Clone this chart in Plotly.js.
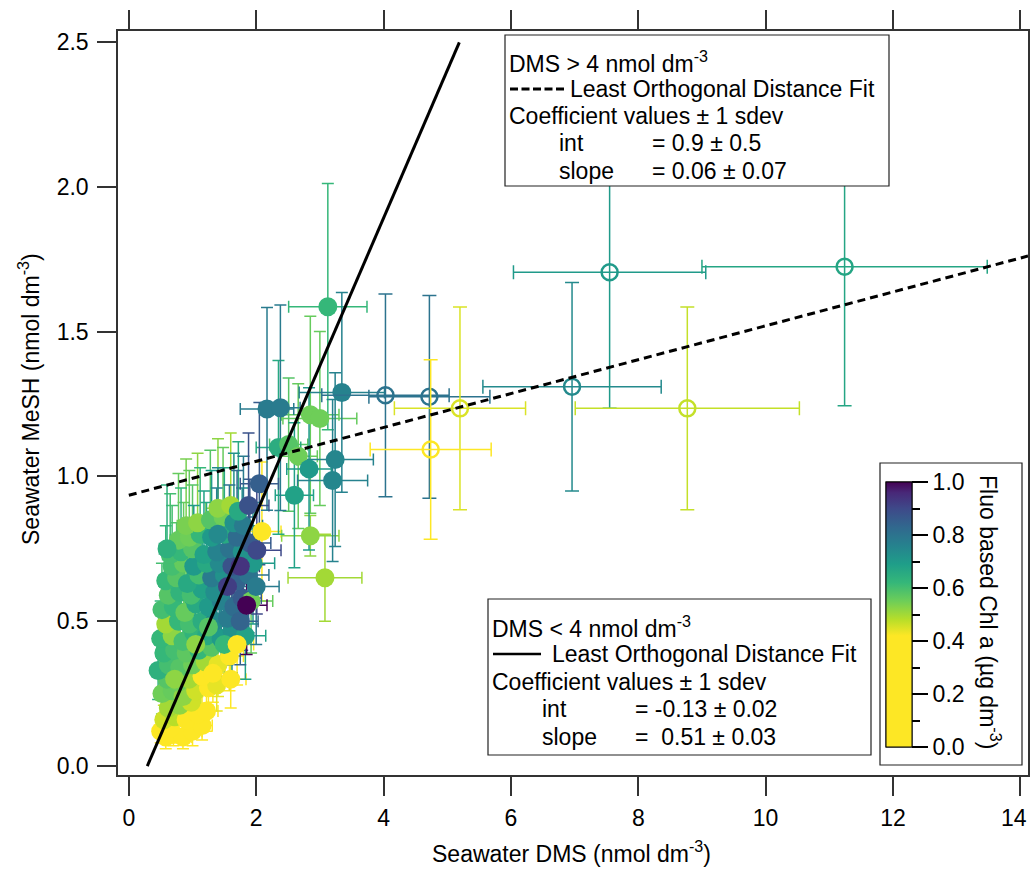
<!DOCTYPE html>
<html><head><meta charset="utf-8">
<script src="https://cdn.plot.ly/plotly-3.0.1.min.js"></script>
<style>html,body{margin:0;padding:0;background:#fff}</style>
</head><body>
<div id="chart" style="width:1030px;height:869px"></div>
<script>
// ---------- DATA: DMS < 4 nmol dm-3 (filled circles) ----------
const lowX = [
 0.58,0.70,0.85,1.00,0.65,1.15,0.50,
 0.55,0.72,0.90,1.08,1.22,0.62,0.80,0.98,
 0.52,0.68,0.85,1.05,1.25,1.38,0.60,0.78,0.95,1.15,
 0.46,0.62,0.80,1.00,1.20,1.40,1.58,0.55,0.72,0.90,1.10,1.30,
 0.50,0.68,0.85,1.02,1.22,1.45,1.62,1.83,0.58,0.78,0.95,1.15,1.35,1.55,
 0.52,0.70,0.88,1.05,1.25,1.45,1.65,1.78,1.92,0.62,0.80,0.98,1.15,1.35,
 0.58,0.75,0.92,1.10,1.30,1.50,1.70,1.88,2.00,0.68,0.86,1.02,1.22,1.42,1.62,1.95,
 0.65,0.82,1.00,1.18,1.38,1.58,1.78,1.90,2.01,0.78,0.95,1.12,1.30,1.50,1.70,
 0.90,1.08,1.28,1.48,1.65,1.80,1.40,1.60,1.72,1.88,
 0.72,1.32,1.50,1.75,1.55,1.25,1.05,0.60,1.60,1.75,1.40,
 1.70,1.85,2.09,
 2.05,2.35,2.51,2.66,2.83,3.24,3.20,2.60,2.17,2.38,2.85,3.00,3.345,3.125,2.85,3.08
];
const lowY = [
 0.10,0.11,0.10,0.12,0.13,0.14,0.12,
 0.16,0.17,0.16,0.18,0.19,0.20,0.21,0.22,
 0.25,0.26,0.24,0.26,0.27,0.28,0.30,0.29,0.30,0.31,
 0.33,0.35,0.34,0.35,0.36,0.35,0.38,0.39,0.40,0.39,0.40,0.41,
 0.44,0.45,0.43,0.46,0.45,0.44,0.47,0.45,0.49,0.50,0.49,0.50,0.50,0.51,
 0.54,0.55,0.53,0.56,0.55,0.57,0.55,0.58,0.57,0.59,0.60,0.59,0.61,0.60,
 0.64,0.65,0.63,0.66,0.65,0.66,0.64,0.66,0.62,0.69,0.70,0.69,0.70,0.70,0.69,0.70,
 0.73,0.74,0.75,0.73,0.74,0.75,0.74,0.77,0.745,0.78,0.79,0.80,0.79,0.80,0.79,
 0.83,0.84,0.85,0.86,0.84,0.83,0.89,0.90,0.88,0.90,
 0.30,0.32,0.42,0.50,0.62,0.48,0.42,0.75,0.30,0.69,0.80,
 0.42,0.555,0.81,
 0.975,1.10,1.11,1.07,1.026,1.058,0.986,0.935,1.233,1.237,1.213,1.20,1.29,1.586,0.795,0.65
];
const lowXerr = [
 0.10,0.12,0.14,0.15,0.10,0.16,0.09,
 0.10,0.12,0.14,0.15,0.18,0.11,0.12,0.15,
 0.10,0.12,0.14,0.16,0.18,0.20,0.11,0.13,0.15,0.17,
 0.10,0.12,0.14,0.16,0.18,0.20,0.22,0.11,0.13,0.15,0.17,0.19,
 0.10,0.12,0.14,0.16,0.18,0.20,0.26,0.32,0.11,0.13,0.15,0.17,0.19,0.24,
 0.10,0.12,0.14,0.16,0.18,0.22,0.28,0.30,0.34,0.11,0.13,0.15,0.17,0.19,
 0.11,0.12,0.14,0.16,0.18,0.22,0.28,0.32,0.36,0.12,0.13,0.15,0.17,0.19,0.26,0.34,
 0.12,0.13,0.15,0.17,0.19,0.24,0.30,0.33,0.38,0.13,0.15,0.16,0.18,0.20,0.28,
 0.14,0.16,0.18,0.20,0.24,0.30,0.19,0.21,0.26,0.32,
 0.12,0.19,0.21,0.28,0.24,0.18,0.16,0.12,0.24,0.30,0.19,
 0.26,0.32,0.30,
 0.30,0.35,0.30,0.30,0.35,0.60,0.55,0.30,0.42,0.31,0.45,0.58,0.67,0.615,0.45,0.58
];
const lowYerr = [
 0.04,0.04,0.04,0.05,0.05,0.05,0.04,
 0.05,0.06,0.06,0.06,0.07,0.06,0.07,0.07,
 0.07,0.08,0.08,0.08,0.09,0.09,0.09,0.09,0.09,0.10,
 0.10,0.10,0.10,0.11,0.11,0.11,0.12,0.12,0.12,0.12,0.12,0.13,
 0.13,0.13,0.13,0.14,0.14,0.14,0.15,0.15,0.15,0.15,0.15,0.15,0.16,0.16,
 0.16,0.16,0.16,0.17,0.17,0.17,0.17,0.18,0.18,0.18,0.18,0.18,0.18,0.18,
 0.19,0.19,0.19,0.20,0.20,0.20,0.20,0.20,0.20,0.21,0.21,0.21,0.21,0.21,0.21,0.21,
 0.21,0.22,0.22,0.22,0.22,0.22,0.22,0.22,0.22,0.23,0.23,0.23,0.23,0.23,0.23,
 0.23,0.24,0.24,0.24,0.24,0.24,0.24,0.25,0.24,0.25,
 0.09,0.10,0.13,0.15,0.19,0.15,0.13,0.22,0.10,0.21,0.23,
 0.14,0.17,0.24,
 0.28,0.30,0.23,0.25,0.28,0.30,0.28,0.25,0.35,0.355,0.34,0.30,0.345,0.425,0.07,0.15
];
const lowChl = [
 0.35,0.33,0.38,0.36,0.40,0.32,0.41,
 0.46,0.48,0.42,0.40,0.38,0.50,0.52,0.46,
 0.55,0.56,0.52,0.46,0.40,0.44,0.58,0.55,0.50,0.42,
 0.64,0.60,0.58,0.55,0.50,0.44,0.40,0.62,0.60,0.57,0.62,0.58,
 0.62,0.52,0.60,0.63,0.66,0.70,0.72,0.68,0.50,0.62,0.60,0.65,0.74,0.78,
 0.60,0.62,0.56,0.66,0.70,0.76,0.82,0.86,0.55,0.58,0.63,0.60,0.68,0.73,
 0.62,0.58,0.66,0.60,0.78,0.72,0.84,0.80,0.78,0.60,0.56,0.70,0.66,0.74,0.88,0.70,
 0.60,0.62,0.58,0.68,0.76,0.80,0.72,0.86,0.90,0.56,0.55,0.62,0.70,0.66,0.82,
 0.54,0.52,0.58,0.55,0.72,0.78,0.52,0.50,0.66,0.88,
 0.52,0.42,0.62,0.84,0.92,0.58,0.52,0.64,0.40,0.94,0.74,
 0.35,1.00,0.38,
 0.85,0.65,0.58,0.55,0.70,0.75,0.75,0.68,0.78,0.78,0.55,0.55,0.76,0.62,0.52,0.50
];

// ---------- DATA: DMS > 4 nmol dm-3 (open circles) ----------
const hiX    = [4.03, 4.72, 5.20, 4.74, 6.96, 7.55, 11.24, 8.77];
const hiY    = [1.280, 1.275, 1.235, 1.093, 1.310, 1.705, 1.724, 1.235];
const hiXerr = [1.00, 0.95, 1.03, 0.95, 1.40, 1.51, 2.24, 1.76];
const hiYerr = [0.35, 0.35, 0.35, 0.31, 0.36, 0.47, 0.48, 0.35];
const hiChl  = [0.80, 0.80, 0.45, 0.42, 0.74, 0.70, 0.67, 0.47];

// ---------- Fit lines (drawn) ----------
const lowFit = {int: -0.148, slope: 0.51, xmin: 0.29, xmax: 5.19};
const hiFit  = {int: 0.935, slope: 0.0585, xmin: 0.0, xmax: 14.12};

// ---------- Tick labels ----------
const xTicks = [0, 2, 4, 6, 8, 10, 12, 14];
const yTicks = [0, 0.5, 1.0, 1.5, 2.0, 2.5];
const cbTicks = [0, 0.2, 0.4, 0.6, 0.8, 1.0];

// ---------- Style ----------
const FONT = 'Liberation Sans, Arial, Helvetica, sans-serif';
const scale = [
 [0.00,'#fde725'],[0.42,'#fde725'],[0.48,'#b8de29'],[0.55,'#6ece58'],
 [0.62,'#35b779'],[0.69,'#1f9e89'],[0.76,'#26828e'],[0.83,'#31688e'],
 [0.90,'#3e4989'],[0.96,'#482878'],[1.00,'#440154']
];
function hex2rgb(h){return [parseInt(h.slice(1,3),16),parseInt(h.slice(3,5),16),parseInt(h.slice(5,7),16)];}
function colorAt(v){
  v = Math.max(0, Math.min(1, v));
  for (let i = 0; i < scale.length-1; i++){
    const a = scale[i], b = scale[i+1];
    if (v >= a[0] && v <= b[0]){
      const t = (b[0]-a[0]) ? (v-a[0])/(b[0]-a[0]) : 0;
      const ca = hex2rgb(a[1]), cb = hex2rgb(b[1]);
      const c = ca.map((q,k)=>Math.round(q+(cb[k]-q)*t));
      return 'rgb('+c.join(',')+')';
    }
  }
  return scale[scale.length-1][1];
}

const traces = [];
// error bars of the low-DMS series, grouped by colour
const groups = {};
lowX.forEach((x,i)=>{
  const k = Math.round(lowChl[i]*50);
  if(!groups[k]) groups[k] = {x:[],y:[],ex:[],ey:[]};
  groups[k].x.push(x); groups[k].y.push(lowY[i]);
  groups[k].ex.push(lowXerr[i]); groups[k].ey.push(lowYerr[i]);
});
Object.keys(groups).forEach(k=>{
  const g = groups[k], col = colorAt(k/50);
  traces.push({
    type:'scatter', mode:'markers', x:g.x, y:g.y, hoverinfo:'skip',
    marker:{size:4, opacity:0},
    error_x:{type:'data', array:g.ex, color:col, thickness:1.5, width:6},
    error_y:{type:'data', array:g.ey, color:col, thickness:1.5, width:6}
  });
});
// filled markers
const cbBase = {
  thickness:26, thicknessmode:'pixels', len:265, lenmode:'pixels',
  x:(886-118)/910, xanchor:'left', y:(775-614.5)/744, yanchor:'middle',
  xpad:0, ypad:0, outlinewidth:1, outlinecolor:'#000', borderwidth:0,
  bgcolor:'rgba(0,0,0,0)', tickcolor:'#000', tickwidth:1.5, ticks:'outside'
};
traces.push({
  type:'scatter', mode:'markers', x:lowX, y:lowY, hoverinfo:'x+y',
  marker:{size:19, color:lowChl, colorscale:scale, cmin:0, cmax:1, line:{width:0},
    showscale:true,
    colorbar:Object.assign({}, cbBase, {ticklen:16, tickvals:cbTicks, tickformat:'.1f',
      tickfont:{family:FONT, size:23, color:'#000'}})}
});
// minor ticks for colour bar
traces.push({
  type:'scatter', mode:'markers', x:[null], y:[null], hoverinfo:'skip',
  marker:{size:1, color:[0.5], colorscale:scale, cmin:0, cmax:1, showscale:true,
    colorbar:Object.assign({}, cbBase, {ticklen:8, dtick:0.1, tick0:0, showticklabels:false})}
});
// open circles
hiX.forEach((x,i)=>{
  const col = colorAt(hiChl[i]);
  traces.push({
    type:'scatter', mode:'markers', x:[x], y:[hiY[i]], hoverinfo:'x+y',
    marker:{symbol:'circle-open', size:16, color:col, line:{width:2.5, color:col}},
    error_x:{type:'data', array:[hiXerr[i]], color:col, thickness:1.5, width:7},
    error_y:{type:'data', array:[hiYerr[i]], color:col, thickness:1.5, width:7}
  });
});
// fit lines
function fitTrace(f, dash){
  const xs = [f.xmin, f.xmax];
  return {type:'scatter', mode:'lines', x:xs, y:xs.map(v=>f.int+f.slope*v), hoverinfo:'skip',
    line:{color:'#000', width:3, dash:dash}};
}
traces.push(fitTrace(hiFit, '8px,5px'));
traces.push(fitTrace(lowFit, 'solid'));

// ---------- Layout helpers (pixel -> paper) ----------
const L=118, R=1028, T=31, B=775;
const px = v => (v-L)/(R-L);
const py = v => (B-v)/(B-T);
function txt(text, x, y, size, extra){
  return Object.assign({text:text, xref:'paper', yref:'paper', x:px(x), y:py(y),
    xanchor:'left', yanchor:'middle', showarrow:false,
    font:{family:FONT, size:size||23, color:'#000'}}, extra||{});
}
const nb = '\u00a0';
const lastX = xTicks[xTicks.length-1];
const annotations = [
  // top legend
  txt('DMS &gt; 4 nmol dm<sup>-3</sup>', 507, 62),
  txt('Least Orthogonal Distance Fit', 568, 89),
  txt('Coefficient values ± 1 sdev', 507, 116),
  txt('int', 557, 143), txt('= 0.9 ± 0.5', 650, 143),
  txt('slope', 557, 171), txt('= 0.06 ± 0.07', 650, 171),
  // bottom legend
  txt('DMS &lt; 4 nmol dm<sup>-3</sup>', 490, 627),
  txt('Least Orthogonal Distance Fit', 550, 654),
  txt('Coefficient values ± 1 sdev', 490, 682),
  txt('int', 540, 709), txt('= -0.13 ± 0.02', 633, 709),
  txt('slope', 540, 737), txt('='+nb+nb+'0.51 ± 0.03', 633, 737),
  // axis titles
  txt('Seawater DMS (nmol dm<sup>-3</sup>)', 571, 852, 23, {xanchor:'center'}),
  txt('Seawater MeSH (nmol dm<sup>-3</sup>)', 29, 399, 23, {xanchor:'center', textangle:-90}),
  // colour bar title
  txt('Fluo based Chl a (µg dm<sup>-3</sup>)', 990, 612, 23, {xanchor:'center', textangle:90}),
  // last x tick label (pushed inside the figure edge, as in the original)
  txt(String(lastX), 1014, 818, 23, {xanchor:'center'})
];
const shapes = [
  {type:'rect', xref:'paper', yref:'paper', x0:px(505), x1:px(889), y0:py(35), y1:py(186),
   fillcolor:'#fff', line:{color:'#222', width:1.2}, layer:'above'},
  {type:'rect', xref:'paper', yref:'paper', x0:px(488), x1:px(871), y0:py(599), y1:py(755),
   fillcolor:'#fff', line:{color:'#222', width:1.2}, layer:'above'},
  {type:'rect', xref:'paper', yref:'paper', x0:px(880), x1:px(1022), y0:py(463), y1:py(765),
   fillcolor:'#fff', line:{color:'#222', width:1.2}, layer:'above'},
  {type:'line', xref:'paper', yref:'paper', x0:px(510), x1:px(565), y0:py(89), y1:py(89),
   line:{color:'#000', width:3, dash:'8px,3.5px'}, layer:'above'},
  {type:'line', xref:'paper', yref:'paper', x0:px(493), x1:px(541), y0:py(654), y1:py(654),
   line:{color:'#000', width:2.5}, layer:'above'}
];

const axisCommon = {
  ticks:'outside', ticklen:19, tickwidth:1.5, tickcolor:'#333',
  showline:true, linecolor:'#333', linewidth:1.5, mirror:'ticks',
  showgrid:false, zeroline:false, fixedrange:true,
  tickfont:{family:FONT, size:23, color:'#000'}
};
const layout = {
  width:1030, height:869,
  margin:{l:118, r:2, t:31, b:94, pad:0},
  paper_bgcolor:'#fff', plot_bgcolor:'#fff',
  showlegend:false,
  font:{family:FONT, size:23, color:'#000'},
  xaxis:Object.assign({}, axisCommon, {range:[-0.17,14.12], tickvals:xTicks,
    ticktext:xTicks.map((v,i)=> i===xTicks.length-1 ? '' : String(v)), ticklabelstandoff:3}),
  yaxis:Object.assign({}, axisCommon, {range:[-0.031,2.538], tickvals:yTicks, tickformat:'.1f', ticklabelstandoff:4}),
  annotations:annotations,
  shapes:shapes
};
Plotly.newPlot('chart', traces, layout, {displayModeBar:false, responsive:false});
</script>
</body></html>
